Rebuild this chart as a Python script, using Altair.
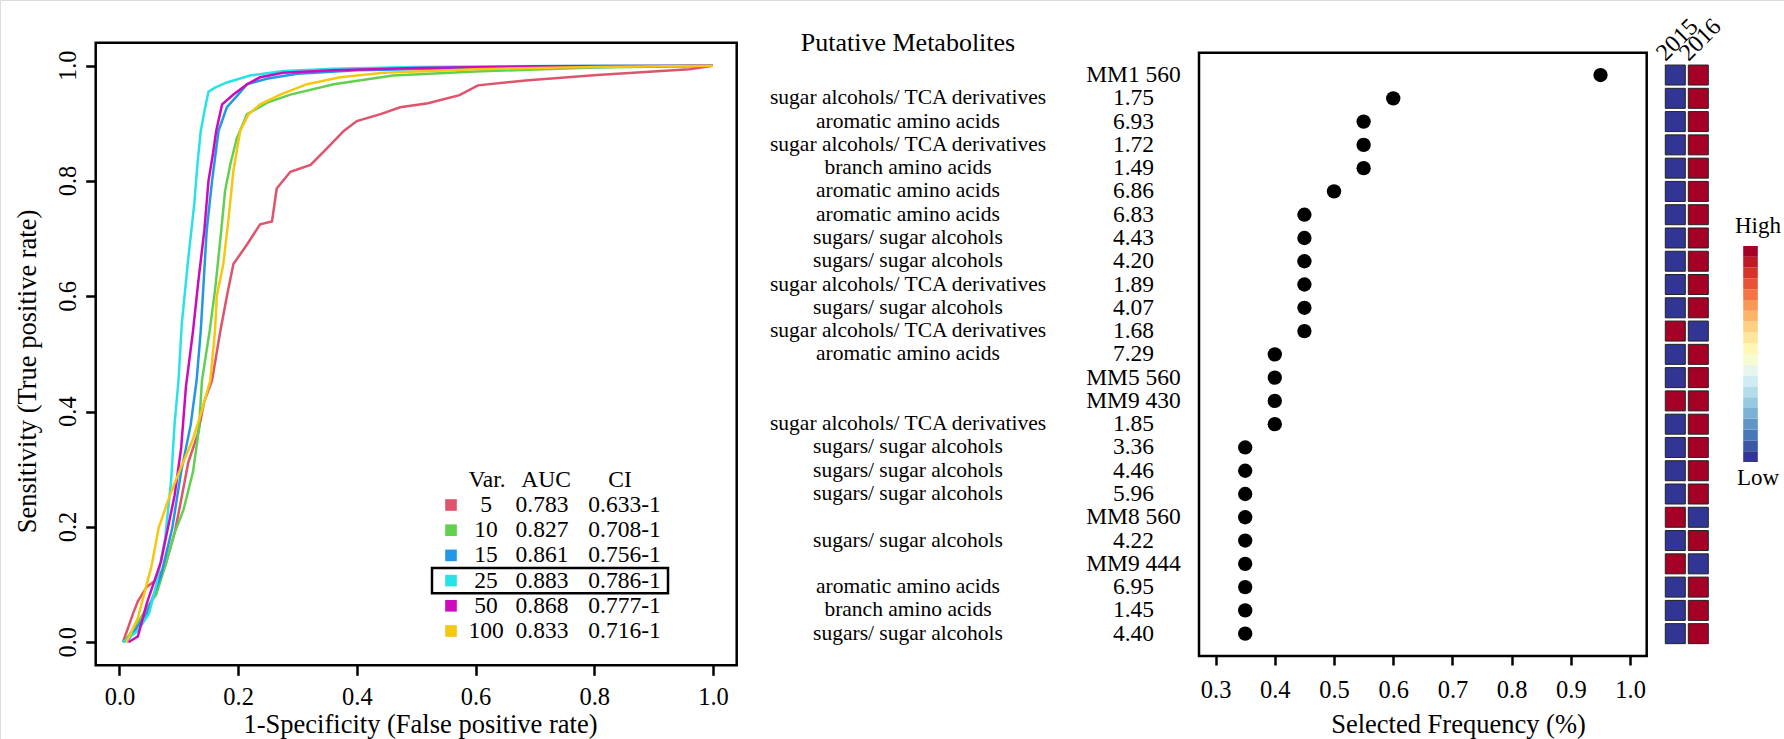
import altair as alt
import pandas as pd

FONT = "Liberation Serif"

# ---------------- ROC curves ----------------
var_levels = ["5", "10", "15", "25", "50", "100"]
var_colors = ["#DF536B", "#61D04F", "#2297E6", "#28E2E5", "#CD0BBC", "#F5C710"]
auc_values = ["0.783", "0.827", "0.861", "0.883", "0.868", "0.833"]
ci_values = ["0.633-1", "0.708-1", "0.756-1", "0.786-1", "0.777-1", "0.716-1"]

fpr_5 = [0.006, 0.023, 0.031, 0.046, 0.062, 0.077, 0.093, 0.104, 0.116, 0.132, 0.143, 0.156, 0.170, 0.181,
         0.192, 0.215, 0.237, 0.257, 0.265, 0.288, 0.322, 0.350, 0.378, 0.400, 0.440, 0.473, 0.520, 0.573,
         0.604, 0.689, 0.805, 0.960, 1.0]
tpr_5 = [0.0, 0.050, 0.071, 0.096, 0.108, 0.132, 0.190, 0.247, 0.312, 0.361, 0.418, 0.454, 0.540, 0.600,
         0.656, 0.690, 0.725, 0.730, 0.787, 0.816, 0.828, 0.857, 0.887, 0.904, 0.916, 0.928, 0.935, 0.949,
         0.966, 0.975, 0.984, 0.994, 1.0]

fpr_10 = [0.008, 0.031, 0.046, 0.062, 0.077, 0.093, 0.108, 0.124, 0.134, 0.139, 0.152, 0.161, 0.1715, 0.178,
          0.187, 0.198, 0.215, 0.249, 0.288, 0.361, 0.461, 0.600, 0.800, 1.0]
tpr_10 = [0.0, 0.034, 0.059, 0.083, 0.132, 0.190, 0.230, 0.296, 0.370, 0.454, 0.540, 0.610, 0.714, 0.783,
          0.830, 0.875, 0.916, 0.936, 0.950, 0.968, 0.983, 0.990, 0.997, 1.0]

fpr_15 = [0.012, 0.046, 0.070, 0.089, 0.104, 0.120, 0.130, 0.137, 0.142, 0.147, 0.156, 0.167, 0.181, 0.200,
          0.215, 0.250, 0.300, 0.400, 0.600, 0.800, 1.0]
tpr_15 = [0.0, 0.050, 0.116, 0.198, 0.296, 0.377, 0.454, 0.540, 0.627, 0.714, 0.800, 0.887, 0.928, 0.950,
          0.968, 0.978, 0.986, 0.992, 0.996, 0.998, 1.0]

fpr_25 = [0.006, 0.031, 0.050, 0.062, 0.077, 0.087, 0.093, 0.0995, 0.105, 0.115, 0.126, 0.1315, 0.137, 0.1445,
          0.150, 0.161, 0.181, 0.220, 0.276, 0.361, 0.500, 0.800, 1.0]
tpr_25 = [0.0, 0.020, 0.050, 0.100, 0.180, 0.280, 0.380, 0.454, 0.552, 0.656, 0.760, 0.830, 0.887, 0.928,
          0.955, 0.962, 0.971, 0.983, 0.991, 0.995, 0.998, 1.0, 1.0]

fpr_50 = [0.015, 0.031, 0.046, 0.070, 0.093, 0.104, 0.112, 0.124, 0.133, 0.143, 0.150, 0.158, 0.163, 0.173,
          0.192, 0.215, 0.237, 0.276, 0.360, 0.500, 0.700, 1.0]
tpr_50 = [0.0, 0.010, 0.067, 0.140, 0.255, 0.337, 0.443, 0.540, 0.627, 0.714, 0.800, 0.850, 0.887, 0.933,
          0.950, 0.968, 0.980, 0.988, 0.992, 0.996, 0.999, 1.0]

fpr_100 = [0.012, 0.031, 0.054, 0.066, 0.085, 0.104, 0.124, 0.139, 0.153, 0.161, 0.164, 0.175, 0.184, 0.192,
           0.2035, 0.2175, 0.237, 0.271, 0.316, 0.372, 0.445, 0.600, 0.800, 1.0]
tpr_100 = [0.0, 0.042, 0.132, 0.198, 0.255, 0.304, 0.353, 0.402, 0.454, 0.540, 0.600, 0.656, 0.737, 0.818,
           0.887, 0.916, 0.933, 0.950, 0.968, 0.980, 0.988, 0.994, 0.998, 1.0]

roc_fpr = [fpr_5, fpr_10, fpr_15, fpr_25, fpr_50, fpr_100]
roc_tpr = [tpr_5, tpr_10, tpr_15, tpr_25, tpr_50, tpr_100]

# ---------------- Metabolite panel ----------------
metab_class = ["", "sugar alcohols/ TCA derivatives", "aromatic amino acids", "sugar alcohols/ TCA derivatives",
               "branch amino acids", "aromatic amino acids", "aromatic amino acids", "sugars/ sugar alcohols",
               "sugars/ sugar alcohols", "sugar alcohols/ TCA derivatives", "sugars/ sugar alcohols",
               "sugar alcohols/ TCA derivatives", "aromatic amino acids", "", "",
               "sugar alcohols/ TCA derivatives", "sugars/ sugar alcohols", "sugars/ sugar alcohols",
               "sugars/ sugar alcohols", "", "sugars/ sugar alcohols", "", "aromatic amino acids",
               "branch amino acids", "sugars/ sugar alcohols"]
metab_id = ["MM1 560", "1.75", "6.93", "1.72", "1.49", "6.86", "6.83", "4.43", "4.20", "1.89", "4.07", "1.68",
            "7.29", "MM5 560", "MM9 430", "1.85", "3.36", "4.46", "5.96", "MM8 560", "4.22", "MM9 444", "6.95",
            "1.45", "4.40"]
sel_freq = [0.95, 0.60, 0.55, 0.55, 0.55, 0.50, 0.45, 0.45, 0.45, 0.45, 0.45, 0.45, 0.40, 0.40, 0.40, 0.40,
            0.35, 0.35, 0.35, 0.35, 0.35, 0.35, 0.35, 0.35, 0.35]
years = ["2015", "2016"]
heat_2015 = [0, 0, 0, 0, 0, 0, 0, 0, 0, 0, 0, 1, 0, 0, 1, 0, 0, 0, 0, 1, 0, 1, 0, 0, 0]
heat_2016 = [1, 1, 1, 1, 1, 1, 1, 1, 1, 1, 1, 0, 1, 1, 1, 1, 1, 1, 1, 0, 1, 0, 1, 1, 1]
heat_colors = ["#313695", "#A50026"]
colorbar_colors = ["#313695", "#3B57A5", "#4878B6", "#6095C5", "#7AB2D4", "#97C9E0", "#B3DDEB", "#CFEBF3",
                   "#E7F6EC", "#F7FCCE", "#FFF7B3", "#FEE79A", "#FED081", "#FDB668", "#FA9656", "#F57446",
                   "#E85337", "#D83329", "#BF1926", "#A50026"]

roc_ticks = [0.0, 0.2, 0.4, 0.6, 0.8, 1.0]
roc_tick_labels = ["0.0", "0.2", "0.4", "0.6", "0.8", "1.0"]
freq_ticks = [0.3, 0.4, 0.5, 0.6, 0.7, 0.8, 0.9, 1.0]

# ---------------- data frames ----------------
roc_rows = []
for v, xs, ys in zip(var_levels, roc_fpr, roc_tpr):
    for k, (a, b) in enumerate(zip(xs, ys)):
        roc_rows.append({"Var": v, "fpr": a, "tpr": b, "ord": k})
roc_df = pd.DataFrame(roc_rows)

leg_df = pd.DataFrame({"Var": var_levels, "AUC": auc_values, "CI": ci_values,
                       "col": var_colors, "idx": list(range(len(var_levels)))})

n = len(metab_id)
met_df = pd.DataFrame({"row": list(range(1, n + 1)), "cls": metab_class, "mid": metab_id, "freq": sel_freq})
heat_df = pd.DataFrame({"row": list(range(1, n + 1)) * 2,
                        "year": ["2015"] * n + ["2016"] * n,
                        "level": heat_2015 + heat_2016})
year_df = pd.DataFrame({"year": years})
cbar_df = pd.DataFrame({"i": list(range(len(colorbar_colors))), "c": colorbar_colors})
ytick_df = pd.DataFrame({"v": roc_ticks, "lab": roc_tick_labels})

roc_dom = [-0.04, 1.04]
freq_dom = [0.272, 1.028]
row_dom = [0.04, 25.96]


def roc_x():
    return alt.Scale(domain=roc_dom, range=[95.7, 736.7], nice=False, zero=False)


def roc_y():
    return alt.Scale(domain=roc_dom, range=[665.3, 42.7], nice=False, zero=False)


def row_y():
    return alt.Scale(domain=row_dom, range=[52.7, 656.0], nice=False, zero=False)


def freq_x():
    return alt.Scale(domain=freq_dom, range=[1199.0, 1646.7], nice=False, zero=False)


def leg_y():
    return alt.Scale(domain=[0, 5], range=[505, 631], nice=False, zero=False)


def heat_x():
    return alt.Scale(type="band", domain=years, range=[1663.8, 1709.8], paddingInner=0.14, paddingOuter=0.07)


def txt(size, **kw):
    return dict(font=FONT, fontSize=size, color="black", **kw)


# ---------------- ROC panel ----------------
roc_frame = alt.Chart(pd.DataFrame({"x0": [roc_dom[0]], "x1": [roc_dom[1]], "y0": [roc_dom[0]], "y1": [roc_dom[1]]})).mark_rect(
    fill=None, stroke="black", strokeWidth=2.5
).encode(
    x=alt.X("x0:Q", scale=roc_x(), axis=None), x2="x1:Q",
    y=alt.Y("y0:Q", scale=roc_y(), axis=None), y2="y1:Q",
)

roc_lines = alt.Chart(roc_df).mark_line(strokeWidth=2.5).encode(
    x=alt.X("fpr:Q", scale=roc_x(), axis=alt.Axis(
        orient="bottom", offset=665.3 - 739, values=roc_ticks, format=".1f", tickSize=10, tickWidth=2.5,
        tickColor="black", domain=False, grid=False, labelFontSize=24.5, labelPadding=10, labelColor="black",
        labelFont=FONT, labelOverlap=False, labelFlush=False,
        title="1-Specificity (False positive rate)", titleFont=FONT, titleFontSize=26.5,
        titleFontWeight="normal", titleColor="black", titleBaseline="alphabetic", titleAlign="center",
        titleX=420, titleY=67.5)),
    y=alt.Y("tpr:Q", scale=roc_y(), axis=alt.Axis(
        orient="left", offset=-95.7, values=roc_ticks, tickSize=10, tickWidth=2.5,
        tickColor="black", domain=False, grid=False, labels=False,
        title="Sensitivity (True positive rate)", titleFont=FONT, titleFontSize=26.5, titleFontWeight="normal",
        titleColor="black", titleAngle=270, titleBaseline="alphabetic", titleAlign="center",
        titleX=36 - 95.7, titleY=371)),
    color=alt.Color("Var:N", scale=alt.Scale(domain=var_levels, range=var_colors), legend=None),
    order="ord:Q",
)

# y tick labels, rotated like R's default axis labels
ytick_txt = alt.Chart(ytick_df).mark_text(angle=270, align="center", baseline="alphabetic", **txt(24.5)).encode(
    x=alt.value(75.7), y=alt.Y("v:Q", scale=roc_y(), axis=None), text="lab:N")

leg_sw = alt.Chart(leg_df).mark_square(size=135, opacity=1).encode(
    x=alt.value(451), y=alt.Y("idx:Q", scale=leg_y(), axis=None),
    color=alt.Color("col:N", scale=None),
)
leg_var = alt.Chart(leg_df).mark_text(align="center", baseline="middle", **txt(23.5)).encode(
    x=alt.value(486), y=alt.Y("idx:Q", scale=leg_y(), axis=None), text="Var:N")
leg_auc = alt.Chart(leg_df).mark_text(align="center", baseline="middle", **txt(23.5)).encode(
    x=alt.value(542), y=alt.Y("idx:Q", scale=leg_y(), axis=None), text="AUC:N")
leg_ci = alt.Chart(leg_df).mark_text(align="center", baseline="middle", **txt(23.5)).encode(
    x=alt.value(624.5), y=alt.Y("idx:Q", scale=leg_y(), axis=None), text="CI:N")

head_one = pd.DataFrame({"idx": [-1]})
leg_h1 = alt.Chart(head_one).mark_text(align="center", baseline="middle", text="Var.", **txt(23.5)).encode(
    x=alt.value(487), y=alt.Y("idx:Q", scale=leg_y(), axis=None))
leg_h2 = alt.Chart(head_one).mark_text(align="center", baseline="middle", text="AUC", **txt(23.5)).encode(
    x=alt.value(546), y=alt.Y("idx:Q", scale=leg_y(), axis=None))
leg_h3 = alt.Chart(head_one).mark_text(align="center", baseline="middle", text="CI", **txt(23.5)).encode(
    x=alt.value(620), y=alt.Y("idx:Q", scale=leg_y(), axis=None))

leg_box = alt.Chart(leg_df).transform_filter(alt.datum.Var == "25").transform_calculate(
    lo="datum.idx - 0.5", hi="datum.idx + 0.5"
).mark_rect(fill=None, stroke="black", strokeWidth=2.5).encode(
    x=alt.value(432), x2=alt.value(668),
    y=alt.Y("lo:Q", scale=leg_y(), axis=None), y2="hi:Q")

# ---------------- metabolite text ----------------
head_txt = alt.Chart(pd.DataFrame({"t": ["Putative Metabolites"]})).mark_text(
    align="center", baseline="middle", **txt(26)
).encode(x=alt.value(908), y=alt.value(43), text="t:N")

cls_txt = alt.Chart(met_df).mark_text(align="center", baseline="middle", **txt(21.5)).encode(
    x=alt.value(908), y=alt.Y("row:Q", scale=row_y(), axis=None), text="cls:N")
id_txt = alt.Chart(met_df).mark_text(align="center", baseline="middle", **txt(23.5)).encode(
    x=alt.value(1133.5), y=alt.Y("row:Q", scale=row_y(), axis=None), text="mid:N")

# ---------------- dot plot ----------------
dot_frame = alt.Chart(pd.DataFrame({"x0": [freq_dom[0]], "x1": [freq_dom[1]], "y0": [row_dom[0]], "y1": [row_dom[1]]})).mark_rect(
    fill=None, stroke="black", strokeWidth=2.5
).encode(
    x=alt.X("x0:Q", scale=freq_x(), axis=None), x2="x1:Q",
    y=alt.Y("y0:Q", scale=row_y(), axis=None), y2="y1:Q",
)
dots = alt.Chart(met_df).mark_circle(size=205, color="black", opacity=1).encode(
    x=alt.X("freq:Q", scale=freq_x(), axis=alt.Axis(
        orient="bottom", offset=656 - 739, values=freq_ticks, format=".1f", tickSize=9, tickWidth=2.5,
        tickColor="black", domain=False, grid=False, labelFontSize=24.5, labelPadding=13, labelColor="black",
        labelFont=FONT, labelOverlap=False, labelFlush=False,
        title="Selected Frequency (%)", titleFont=FONT, titleFontSize=26.5, titleFontWeight="normal",
        titleColor="black", titleBaseline="alphabetic", titleAlign="center", titleX=1458, titleY=76.5)),
    y=alt.Y("row:Q", scale=row_y(), axis=None),
)

# ---------------- heatmap ----------------
heat = alt.Chart(heat_df).mark_square(size=400, opacity=1, stroke="#222222", strokeWidth=1).encode(
    x=alt.X("year:N", scale=heat_x(), axis=None),
    y=alt.Y("row:Q", scale=row_y(), axis=None),
    color=alt.Color("level:Q", scale=alt.Scale(domain=[0, 1], range=heat_colors), legend=None),
)
year_txt = alt.Chart(year_df).mark_text(angle=315, align="left", baseline="alphabetic", **txt(24)).encode(
    x=alt.X("year:N", scale=heat_x(), axis=None, bandPosition=0),
    y=alt.value(62), text="year:N")

# ---------------- colour key ----------------
cbar = alt.Chart(cbar_df).transform_calculate(i1="datum.i + 1").mark_rect().encode(
    x=alt.value(1743.2), x2=alt.value(1757.8),
    y=alt.Y("i:Q", scale=alt.Scale(domain=[0, len(colorbar_colors)], range=[462, 246], nice=False, zero=False), axis=None),
    y2="i1:Q",
    color=alt.Color("c:N", scale=None),
)
key_txt = alt.Chart(pd.DataFrame({"t": ["High", "Low"]})).mark_text(
    align="center", baseline="middle", **txt(23)
).encode(
    x=alt.value(1758),
    y=alt.Y("t:N", scale=alt.Scale(type="point", domain=["High", "Low"], range=[226, 478], padding=0), axis=None),
    text="t:N")

chart = alt.layer(
    roc_frame, roc_lines, ytick_txt, leg_sw, leg_var, leg_auc, leg_ci, leg_h1, leg_h2, leg_h3, leg_box,
    head_txt, cls_txt, id_txt,
    dot_frame, dots, heat, year_txt, cbar, key_txt,
).resolve_scale(
    x="independent", y="independent", color="independent"
).properties(
    width=1784, height=739, autosize="none", padding=0
).configure_view(stroke=None).configure(background="white")

chart.save("out.html", embed_options={"renderer": "svg", "actions": False})
